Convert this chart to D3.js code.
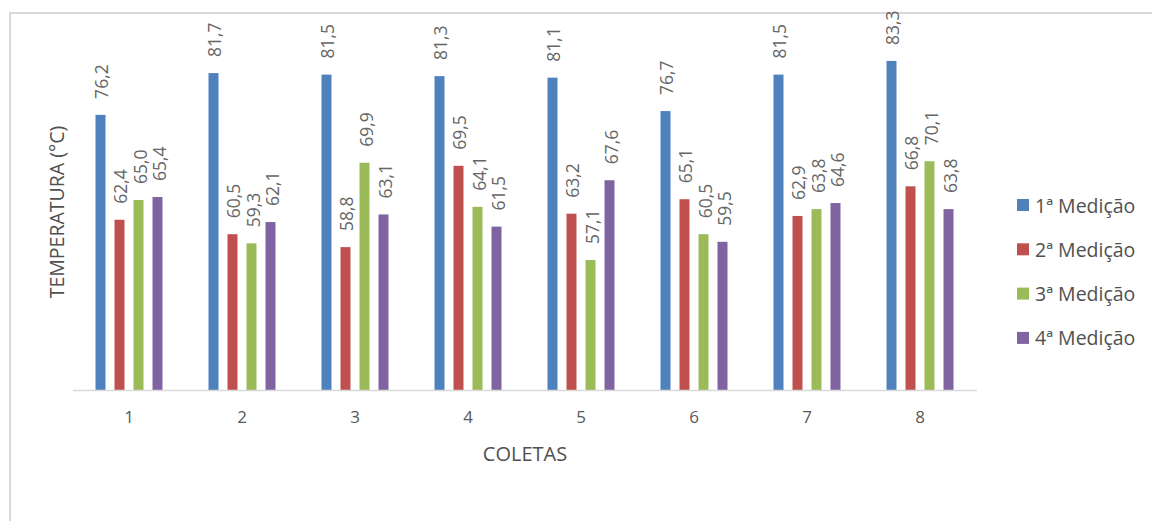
<!DOCTYPE html>
<html>
<head>
<meta charset="utf-8">
<script src="https://cdn.jsdelivr.net/npm/d3@7"></script>
<style>
  html, body { margin: 0; padding: 0; background: #fff; }
  svg { display: block; font-family: "Open Sans", sans-serif; }
</style>
</head>
<body>
<svg id="chart" width="1152" height="521"></svg>
<script>
// Temperatura por coleta, quatro medições em cada coleta
const coletas = ["1", "2", "3", "4", "5", "6", "7", "8"];
const series = ["1ª Medição", "2ª Medição", "3ª Medição", "4ª Medição"];
const medicao1 = [76.2, 81.7, 81.5, 81.3, 81.1, 76.7, 81.5, 83.3];
const medicao2 = [62.4, 60.5, 58.8, 69.5, 63.2, 65.1, 62.9, 66.8];
const medicao3 = [65.0, 59.3, 69.9, 64.1, 57.1, 60.5, 63.8, 70.1];
const medicao4 = [65.4, 62.1, 63.1, 61.5, 67.6, 59.5, 64.6, 63.8];
const colors = ["#4f81bd", "#c0504d", "#9bbb59", "#8064a2"];
const yDomain = [40, 90];

const valuesBySeries = [medicao1, medicao2, medicao3, medicao4];
const rows = coletas.map((c, i) => ({
  coleta: c,
  values: series.map((s, k) => ({ serie: s, k, value: valuesBySeries[k][i] }))
}));

const svg = d3.select("#chart");
const fmt = v => v.toFixed(1).replace(".", ",");

// chart frame
svg.append("path")
  .attr("d", "M10,521 V13 H1152")
  .attr("fill", "none")
  .attr("stroke", "#d9d9d9")
  .attr("stroke-width", 2);

const x0 = d3.scaleBand().domain(coletas).range([72.5, 976.5]).padding(0);
const half = 33.5;
const x1 = d3.scaleBand().domain(series)
  .range([x0.bandwidth() / 2 - half, x0.bandwidth() / 2 + half])
  .paddingInner(0.474).paddingOuter(0);
const y = d3.scaleLinear().domain(yDomain).range([390, 10]);

const groups = svg.append("g").selectAll("g")
  .data(rows).join("g")
  .attr("transform", d => `translate(${x0(d.coleta)},0)`);

groups.selectAll("rect")
  .data(d => d.values).join("rect")
  .attr("x", d => x1(d.serie))
  .attr("y", d => y(d.value))
  .attr("width", x1.bandwidth())
  .attr("height", d => y(yDomain[0]) - y(d.value))
  .attr("fill", d => colors[d.k]);

groups.selectAll("text")
  .data(d => d.values).join("text")
  .attr("transform", d => `translate(${x1(d.serie) + x1.bandwidth() / 2 + 1},${y(d.value) - 16}) rotate(-90)`)
  .attr("text-anchor", "start")
  .attr("dominant-baseline", "central")
  .attr("fill", "#666666")
  .attr("font-size", 17.5)
  .text(d => fmt(d.value));

// category axis
const xAxis = svg.append("g")
  .attr("transform", `translate(0,${y(yDomain[0])})`)
  .call(d3.axisBottom(x0).tickSize(0).tickPadding(21));
xAxis.select(".domain").attr("stroke", "#d9d9d9").attr("stroke-width", 1.5);
xAxis.selectAll("text")
  .attr("font-family", "Open Sans, sans-serif")
  .attr("font-size", 17)
  .attr("fill", "#595959");

// axis titles
svg.append("text")
  .attr("x", 525).attr("y", 453)
  .attr("text-anchor", "middle")
  .attr("dominant-baseline", "central")
  .attr("font-size", 20)
  .attr("fill", "#505050")
  .text("COLETAS");

svg.append("text")
  .attr("transform", "translate(56,212) rotate(-90)")
  .attr("text-anchor", "middle")
  .attr("dominant-baseline", "central")
  .attr("font-size", 19.5)
  .attr("fill", "#505050")
  .text("TEMPERATURA (°C)");

// legend
const legend = svg.append("g").selectAll("g")
  .data(series).join("g")
  .attr("transform", (d, i) => `translate(1017,${205 + i * 44.3})`);
legend.append("rect")
  .attr("x", 0).attr("y", -6)
  .attr("width", 12).attr("height", 12)
  .attr("fill", (d, i) => colors[i]);
legend.append("text")
  .attr("x", 18).attr("y", 0)
  .attr("dominant-baseline", "central")
  .attr("font-size", 19.5)
  .attr("fill", "#505050")
  .text(d => d);
</script>
</body>
</html>
